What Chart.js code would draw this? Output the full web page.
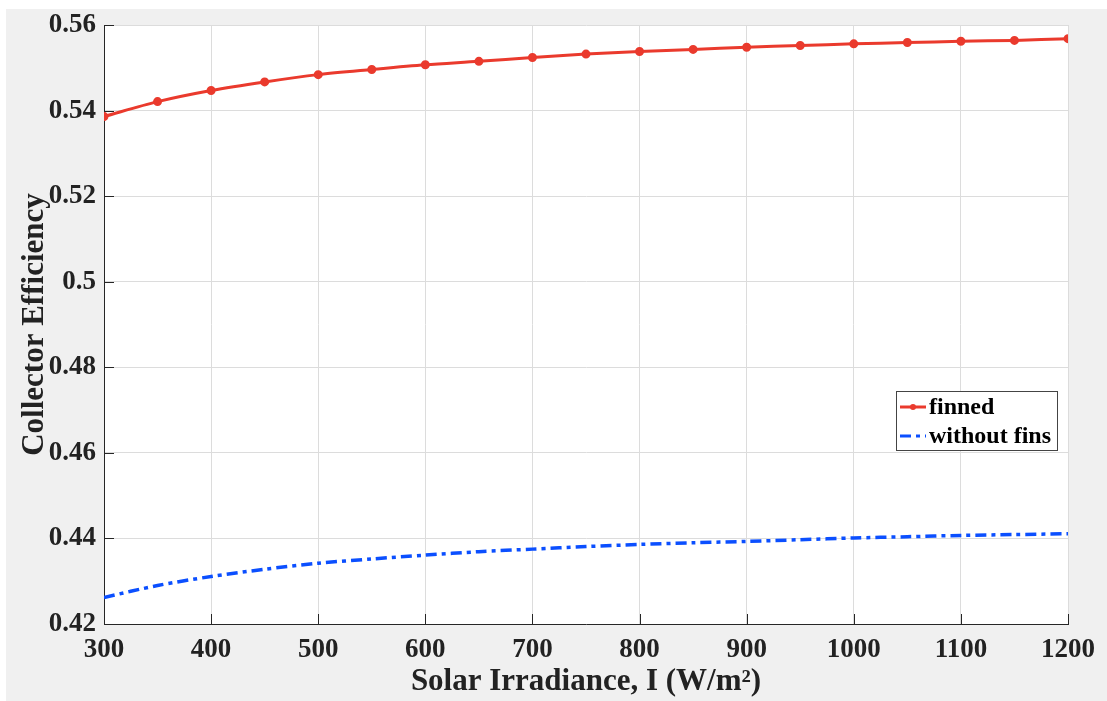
<!DOCTYPE html>
<html>
<head>
<meta charset="utf-8" />
<script src="https://cdn.jsdelivr.net/npm/chart.js@4.4.0/dist/chart.umd.min.js"></script>
<style>
  body { margin:0; background:#fff; width:1107px; height:701px; overflow:hidden; }
  #holder { position:absolute; left:6px; top:9px; width:1101px; height:692px; background:#f0f0f0; }
</style>
</head>
<body>
<div id="holder"><canvas id="effChart" width="1101" height="692"></canvas></div>
<script>
// values
const irradiance = [300, 350, 400, 450, 500, 550, 600, 650, 700, 750, 800, 850, 900, 950, 1000, 1050, 1100, 1150, 1200];
const finned = [0.5386, 0.5421, 0.5447, 0.5467, 0.5484, 0.5496, 0.5507, 0.5515, 0.5524, 0.5532, 0.5538, 0.5543,
                0.5548, 0.5552, 0.5556, 0.5559, 0.5562, 0.5564, 0.5568];
const withoutFins = [0.4262, 0.4290, 0.4311, 0.4328, 0.4342, 0.4352, 0.4361, 0.4369, 0.4375, 0.4381, 0.4386, 0.4390,
                     0.4393, 0.4397, 0.4401, 0.4404, 0.4407, 0.4409, 0.4411];
const seriesNames = ['finned', 'without fins'];
const xTitle = 'Solar Irradiance, I (W/m\u00B2)';
const yTitle = 'Collector Efficiency';

const RED = '#ea3a2d', BLUE = '#0b4fff';
const SERIF = "'Liberation Serif', 'Times New Roman', serif";
const BLUE_DASH = [11, 5, 4, 5];

const toPts = ys => ys.map((y, i) => ({ x: irradiance[i], y: y }));

// white plot area, like the matlab axes
const plotBg = {
  id: 'plotBg',
  beforeDraw(chart) {
    const a = chart.chartArea, c = chart.ctx;
    c.save();
    c.fillStyle = '#fff';
    c.fillRect(a.left, a.top, a.right - a.left, a.bottom - a.top);
    c.restore();
  }
};

// inward tick marks
const innerTicks = {
  id: 'innerTicks',
  afterDatasetsDraw(chart) {
    const c = chart.ctx, a = chart.chartArea;
    const xs = chart.scales.x, ys = chart.scales.y;
    c.save();
    c.strokeStyle = '#262626';
    c.lineWidth = 1;
    c.beginPath();
    xs.ticks.forEach(t => {
      const px = Math.round(xs.getPixelForValue(t.value)) + 0.5;
      c.moveTo(px, a.bottom); c.lineTo(px, a.bottom - 10);
    });
    ys.ticks.forEach(t => {
      const py = Math.round(ys.getPixelForValue(t.value)) + 0.5;
      c.moveTo(a.left, py); c.lineTo(a.left + 10, py);
    });
    c.stroke();
    c.restore();
  }
};

// boxed legend inside the axes, lower right
const boxLegend = {
  id: 'boxLegend',
  afterDraw(chart) {
    const c = chart.ctx, a = chart.chartArea;
    const right = a.right - 10, top = 382, w = 162, h = 60;
    const left = right - w;
    c.save();
    c.fillStyle = '#fff';
    c.fillRect(left, top, w, h);
    c.strokeStyle = '#444';
    c.lineWidth = 1;
    c.strokeRect(left + 0.5, top + 0.5, w - 1, h - 1);
    c.font = 'bold 24px ' + SERIF;
    c.textBaseline = 'middle';
    chart.data.datasets.forEach((ds, i) => {
      const yy = top + 16 + i * 29;
      c.strokeStyle = ds.borderColor;
      c.lineWidth = 3;
      c.setLineDash(ds.borderDash || []);
      c.beginPath();
      c.moveTo(left + 4, yy); c.lineTo(left + 30, yy);
      c.stroke();
      c.setLineDash([]);
      if (ds.pointRadius > 0) {
        c.fillStyle = ds.borderColor;
        c.beginPath(); c.arc(left + 17, yy, 3, 0, Math.PI * 2); c.fill();
      }
      c.fillStyle = '#000';
      c.fillText(ds.label, left + 33, yy + 1);
    });
    c.restore();
  }
};

new Chart(document.getElementById('effChart'), {
  type: 'line',
  data: {
    datasets: [
      { label: seriesNames[0], data: toPts(finned), borderColor: RED, backgroundColor: RED,
        borderWidth: 3, pointRadius: 3, pointHoverRadius: 3, tension: 0.3 },
      { label: seriesNames[1], data: toPts(withoutFins), borderColor: BLUE, backgroundColor: BLUE,
        borderWidth: 3.5, borderDash: BLUE_DASH, pointRadius: 0, tension: 0.3 }
    ]
  },
  options: {
    responsive: false,
    animation: false,
    layout: { padding: { top: 0, right: 39, left: 0, bottom: 0 } },
    plugins: { legend: { display: false }, tooltip: { enabled: false } },
    scales: {
      x: {
        type: 'linear', min: 300, max: 1200,
        afterFit: s => { s.height = 77; },
        grid: { color: '#dcdcdc', drawTicks: false },
        border: { color: '#262626', width: 1 },
        ticks: { stepSize: 100, padding: 10, color: '#222',
                 font: { family: SERIF, size: 27, weight: 'bold' },
                 callback: v => String(v) },
        title: { display: true, text: xTitle, color: '#222', padding: { top: 0, bottom: 0 },
                 font: { family: SERIF, size: 31, weight: 'bold' } }
      },
      y: {
        min: 0.42, max: 0.56,
        afterFit: s => { s.width = 98; s.paddingTop = 16; s.paddingBottom = 0; },
        grid: { color: '#dcdcdc', drawTicks: false },
        border: { color: '#262626', width: 1 },
        ticks: { stepSize: 0.02, padding: 8, color: '#222',
                 font: { family: SERIF, size: 27, weight: 'bold' },
                 callback: v => String(parseFloat(v.toFixed(2))) },
        title: { display: true, text: yTitle, color: '#222', padding: { top: 10, bottom: 0 },
                 font: { family: SERIF, size: 31, weight: 'bold' } }
      }
    }
  },
  plugins: [plotBg, innerTicks, boxLegend]
});
</script>
</body>
</html>
